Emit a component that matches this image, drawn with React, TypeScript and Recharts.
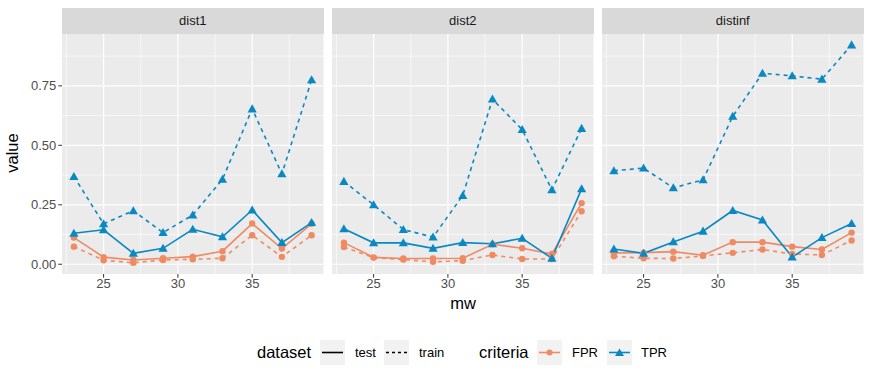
import React from 'react';
import { LineChart, Line, XAxis, YAxis, CartesianGrid, ReferenceLine } from 'recharts';

// ggplot-ish colours
const FPR_COLOR = '#EF8A62';
const TPR_COLOR = '#0A88C2';
const PANEL_BG = '#EBEBEB';
const STRIP_BG = '#D9D9D9';
const FONT = '"Liberation Sans", Arial, sans-serif';

const mw = [23, 25, 27, 29, 31, 33, 35, 37, 39];
const panels = ['dist1', 'dist2', 'distinf'];

// dist1
const d1FprTest = [0.112, 0.03, 0.018, 0.025, 0.032, 0.055, 0.171, 0.066, 0.17];
const d1FprTrain = [0.074, 0.017, 0.006, 0.018, 0.021, 0.025, 0.122, 0.031, 0.122];
const d1TprTest = [0.13, 0.145, 0.046, 0.067, 0.147, 0.115, 0.228, 0.091, 0.175];
const d1TprTrain = [0.369, 0.17, 0.225, 0.133, 0.207, 0.357, 0.653, 0.38, 0.775];
// dist2
const d2FprTest = [0.091, 0.029, 0.024, 0.024, 0.025, 0.084, 0.067, 0.043, 0.257];
const d2FprTrain = [0.072, 0.028, 0.02, 0.01, 0.015, 0.039, 0.022, 0.022, 0.223];
const d2TprTest = [0.149, 0.09, 0.09, 0.067, 0.091, 0.086, 0.109, 0.025, 0.317];
const d2TprTrain = [0.348, 0.25, 0.146, 0.114, 0.289, 0.694, 0.566, 0.313, 0.571];
// distinf
const d3FprTest = [0.048, 0.049, 0.053, 0.038, 0.093, 0.093, 0.074, 0.062, 0.133];
const d3FprTrain = [0.034, 0.025, 0.024, 0.035, 0.048, 0.062, 0.043, 0.039, 0.1];
const d3TprTest = [0.064, 0.046, 0.094, 0.139, 0.226, 0.186, 0.03, 0.112, 0.171];
const d3TprTrain = [0.393, 0.404, 0.321, 0.355, 0.622, 0.803, 0.792, 0.778, 0.922];

const yTicks = [0, 0.25, 0.5, 0.75];
const yMinor = [0.125, 0.375, 0.625, 0.875];
const xTicks = [25, 30, 35];
const xMinor = [22.5, 27.5, 32.5, 37.5];

const seriesByPanel = [
  [d1FprTest, d1FprTrain, d1TprTest, d1TprTrain],
  [d2FprTest, d2FprTrain, d2TprTest, d2TprTrain],
  [d3FprTest, d3FprTrain, d3TprTest, d3TprTrain],
];

const buildRows = (s: number[][]) =>
  mw.map((m, i) => ({
    mw: m,
    fprTest: s[0][i],
    fprTrain: s[1][i],
    tprTest: s[2][i],
    tprTrain: s[3][i],
  }));

const Circle = (props: any) => {
  const { cx, cy } = props;
  if (cx == null || cy == null) return null;
  return <circle cx={cx} cy={cy} r={3.2} fill={FPR_COLOR} />;
};

const Triangle = (props: any) => {
  const { cx, cy } = props;
  if (cx == null || cy == null) return null;
  const s = 4.6;
  return (
    <polygon
      points={`${cx},${cy - s} ${cx - s},${cy + s * 0.75} ${cx + s},${cy + s * 0.75}`}
      fill={TPR_COLOR}
    />
  );
};

const panelLefts = [62, 332, 602];
const PANEL_W = 261.5;
const PANEL_TOP = 34;
const PANEL_BOTTOM = 274;
const TICK_FONT = 13;

const Panel: React.FC<{ idx: number }> = ({ idx }) => {
  const rows = buildRows(seriesByPanel[idx]);
  const first = idx === 0;
  const left = first ? 0 : panelLefts[idx];
  const width = first ? panelLefts[0] + PANEL_W : PANEL_W;
  return (
    <div style={{ position: 'absolute', left, top: 0 }}>
      <LineChart
        width={width}
        height={300}
        data={rows}
        margin={{ top: PANEL_TOP, right: 0, bottom: 0, left: 0 }}
      >
        <CartesianGrid fill={PANEL_BG} stroke="none" horizontal={false} vertical={false} />
        {yMinor.map((v) => (
          <ReferenceLine key={'ym' + v} y={v} stroke="#fff" strokeWidth={0.6} ifOverflow="hidden" />
        ))}
        {xMinor.map((v) => (
          <ReferenceLine key={'xm' + v} x={v} stroke="#fff" strokeWidth={0.6} ifOverflow="hidden" />
        ))}
        {yTicks.map((v) => (
          <ReferenceLine key={'y' + v} y={v} stroke="#fff" strokeWidth={1.2} />
        ))}
        {xTicks.map((v) => (
          <ReferenceLine key={'x' + v} x={v} stroke="#fff" strokeWidth={1.2} />
        ))}
        <XAxis
          dataKey="mw"
          type="number"
          domain={[22.2, 39.8]}
          ticks={xTicks}
          height={300 - PANEL_BOTTOM}
          axisLine={false}
          tickSize={3.7}
          tickMargin={1.5}
          tickLine={{ stroke: '#333333', strokeWidth: 1 }}
          tick={{ fill: '#4D4D4D', fontSize: TICK_FONT, fontFamily: FONT }}
        />
        <YAxis
          hide={!first}
          type="number"
          domain={[-0.041, 0.968]}
          ticks={yTicks}
          tickFormatter={(v: number) => v.toFixed(2)}
          width={62}
          axisLine={false}
          tickSize={3.7}
          tickMargin={2}
          tickLine={{ stroke: '#333333', strokeWidth: 1 }}
          tick={{ fill: '#4D4D4D', fontSize: TICK_FONT, fontFamily: FONT }}
          allowDataOverflow
        />
        <Line dataKey="fprTrain" stroke={FPR_COLOR} strokeWidth={1.6} strokeDasharray="4 4" dot={<Circle />} activeDot={false} isAnimationActive={false} />
        <Line dataKey="fprTest" stroke={FPR_COLOR} strokeWidth={1.6} dot={<Circle />} activeDot={false} isAnimationActive={false} />
        <Line dataKey="tprTrain" stroke={TPR_COLOR} strokeWidth={1.6} strokeDasharray="4 4" dot={<Triangle />} activeDot={false} isAnimationActive={false} />
        <Line dataKey="tprTest" stroke={TPR_COLOR} strokeWidth={1.6} dot={<Triangle />} activeDot={false} isAnimationActive={false} />
      </LineChart>
    </div>
  );
};

const textStyle: React.CSSProperties = { position: 'absolute', fontFamily: FONT, whiteSpace: 'nowrap' };

const LegendKey: React.FC<{ kind: 'solid' | 'dashed' | 'fpr' | 'tpr'; left: number }> = ({ kind, left }) => {
  const color = kind === 'fpr' ? FPR_COLOR : kind === 'tpr' ? TPR_COLOR : '#000';
  return (
    <svg style={{ position: 'absolute', left, top: 340 }} width={25} height={25}>
      <rect x={0} y={0} width={25} height={25} fill="#F2F2F2" />
      <line
        x1={2}
        x2={23}
        y1={12.5}
        y2={12.5}
        stroke={color}
        strokeWidth={1.6}
        strokeDasharray={kind === 'dashed' ? '3 3' : undefined}
      />
      {kind === 'fpr' && <circle cx={12.5} cy={12.5} r={3} fill={FPR_COLOR} />}
      {kind === 'tpr' && <polygon points="12.5,8.5 8,16 17,16" fill={TPR_COLOR} />}
    </svg>
  );
};

export default function App() {
  return (
    <div style={{ position: 'absolute', left: 0, top: 0, width: 872, height: 382, background: '#fff', overflow: 'hidden' }}>
      {panels.map((p, i) => (
        <div
          key={p}
          style={{
            ...textStyle,
            left: panelLefts[i],
            top: 8,
            width: PANEL_W,
            height: 26,
            lineHeight: '26px',
            background: STRIP_BG,
            color: '#1A1A1A',
            fontSize: 13,
            textAlign: 'center',
          }}
        >
          {p}
        </div>
      ))}
      {panels.map((p, i) => (
        <Panel key={p} idx={i} />
      ))}
      <div
        style={{
          ...textStyle,
          left: 12,
          top: 153,
          fontSize: 16.5,
          lineHeight: '18px',
          color: '#000',
          transform: 'translate(-50%, -50%) rotate(-90deg)',
        }}
      >
        value
      </div>
      <div style={{ ...textStyle, left: 463, top: 303, fontSize: 16.5, lineHeight: '18px', color: '#000', transform: 'translate(-50%, -50%)' }}>
        mw
      </div>
      {/* legend */}
      <div style={{ ...textStyle, left: 257, top: 343, fontSize: 16.5, lineHeight: '19px' }}>dataset</div>
      <LegendKey kind="solid" left={320} />
      <div style={{ ...textStyle, left: 355, top: 345, fontSize: 13, lineHeight: '15px' }}>test</div>
      <LegendKey kind="dashed" left={384} />
      <div style={{ ...textStyle, left: 419, top: 345, fontSize: 13, lineHeight: '15px' }}>train</div>
      <div style={{ ...textStyle, left: 479, top: 343, fontSize: 16.5, lineHeight: '19px' }}>criteria</div>
      <LegendKey kind="fpr" left={537} />
      <div style={{ ...textStyle, left: 572, top: 345, fontSize: 13, lineHeight: '15px' }}>FPR</div>
      <LegendKey kind="tpr" left={607} />
      <div style={{ ...textStyle, left: 641, top: 345, fontSize: 13, lineHeight: '15px' }}>TPR</div>
    </div>
  );
}
